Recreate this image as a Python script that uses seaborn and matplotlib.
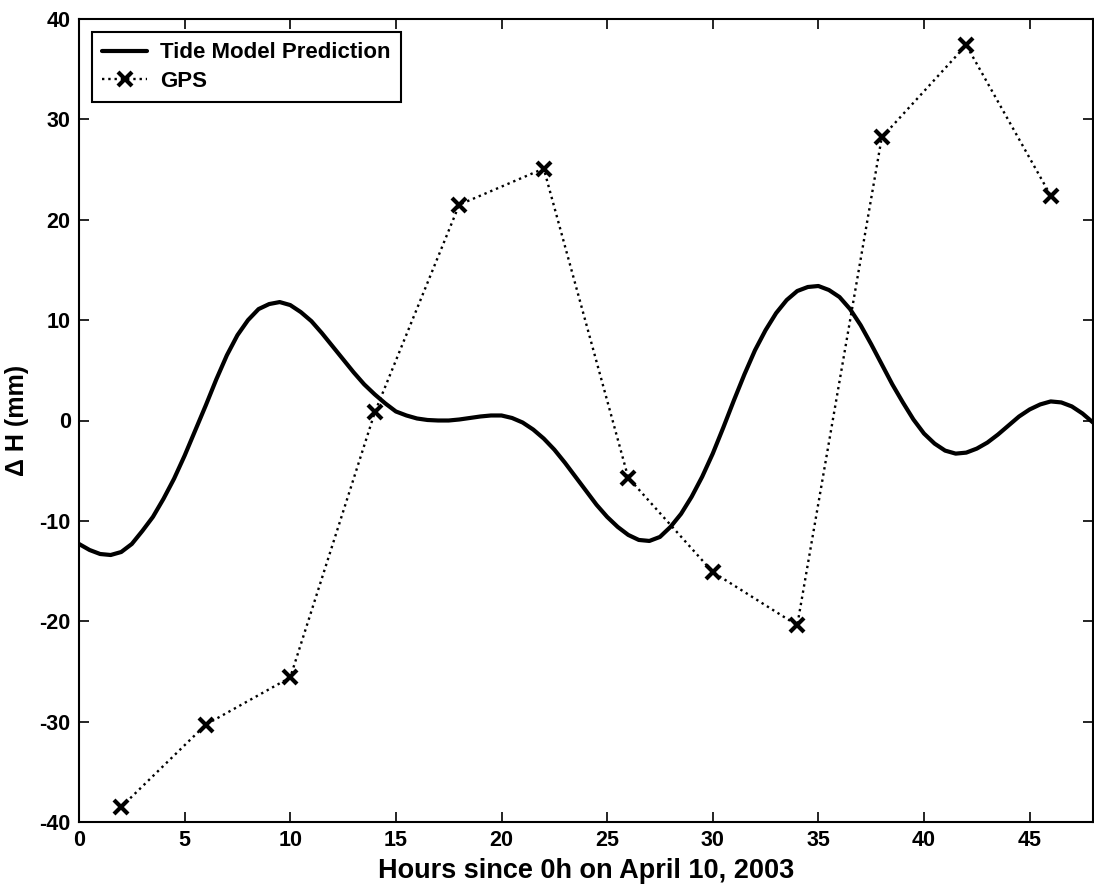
import matplotlib
matplotlib.use('Agg')
import matplotlib.pyplot as plt
import seaborn as sns

# tide model prediction, every half hour
tide_hours = [i / 2 for i in range(97)]
tide_dh = [-12.3, -12.9, -13.3, -13.4, -13.1, -12.3, -11.0, -9.6, -7.8, -5.8,
           -3.5, -1.0, 1.5, 4.1, 6.5, 8.5, 10.0, 11.1, 11.6, 11.8,
           11.5, 10.8, 9.9, 8.7, 7.4, 6.1, 4.8, 3.6, 2.6, 1.7,
           0.9, 0.5, 0.2, 0.05, 0.0, 0.0, 0.1, 0.25, 0.4, 0.5,
           0.5, 0.25, -0.2, -0.9, -1.8, -2.9, -4.2, -5.6, -7.0, -8.4,
           -9.6, -10.6, -11.4, -11.9, -12.0, -11.6, -10.6, -9.3, -7.6, -5.6,
           -3.3, -0.7, 2.0, 4.6, 7.0, 9.0, 10.7, 12.0, 12.9, 13.3,
           13.4, 13.0, 12.3, 11.1, 9.5, 7.6, 5.6, 3.6, 1.8, 0.1,
           -1.3, -2.3, -3.0, -3.3, -3.2, -2.8, -2.2, -1.4, -0.5, 0.4,
           1.1, 1.6, 1.9, 1.8, 1.4, 0.7, -0.2]

# GPS estimates every 4 hours
gps_hours = [2, 6, 10, 14, 18, 22, 26, 30, 34, 38, 42, 46]
gps_dh = [-38.5, -30.3, -25.6, 0.8, 21.5, 25.1, -5.7, -15.1, -20.4, 28.2, 37.4, 22.4]

sns.set_style('ticks')
plt.rcParams['font.family'] = ['Liberation Sans', 'DejaVu Sans']
plt.rcParams['font.weight'] = 'bold'
plt.rcParams['axes.unicode_minus'] = False
plt.rcParams['text.color'] = 'black'
plt.rcParams['axes.labelcolor'] = 'black'

fig = plt.figure(figsize=(10.94, 8.93), dpi=100)
ax = fig.add_axes([79 / 1094, 1 - 822 / 893, 1014 / 1094, 803 / 893])

sns.lineplot(x=tide_hours, y=tide_dh, ax=ax, color='black', linewidth=3,
             label='Tide Model Prediction')
sns.lineplot(x=gps_hours, y=gps_dh, ax=ax, color='black', linewidth=1.7,
             linestyle=':', marker='x', markersize=10, markeredgewidth=3,
             markeredgecolor='black', label='GPS')

ax.set_xlim(0, 48)
ax.set_ylim(-40, 40)
ax.set_xticks(range(0, 46, 5))
ax.set_yticks(range(-40, 41, 10))
ax.tick_params(direction='in', length=7, width=1.2, top=True, right=True,
               labelsize=15.5, colors='black', labelcolor='black', pad=6)
for lab in ax.get_xticklabels() + ax.get_yticklabels():
    lab.set_fontweight('bold')
for sp in ax.spines.values():
    sp.set_visible(True)
    sp.set_color('black')
    sp.set_linewidth(1.5)

ax.set_xlabel('Hours since 0h on April 10, 2003', fontsize=19.5, fontweight='bold',
              labelpad=5, color='black')
ax.set_ylabel('Δ H (mm)', fontsize=18, fontweight='bold', color='black')
ax.yaxis.set_label_coords(-50 / 1014, 0.5)

leg = ax.legend(loc='upper left', fontsize=16, frameon=True, fancybox=False,
                borderaxespad=0.6, handlelength=2.0, handletextpad=0.6,
                borderpad=0.45, labelspacing=0.35)
leg.get_frame().set_edgecolor('black')
leg.get_frame().set_linewidth(1.5)
leg.get_frame().set_alpha(1)
for t in leg.get_texts():
    t.set_fontweight('bold')
    t.set_color('black')

fig.savefig('out.png', dpi=100, facecolor='white')
